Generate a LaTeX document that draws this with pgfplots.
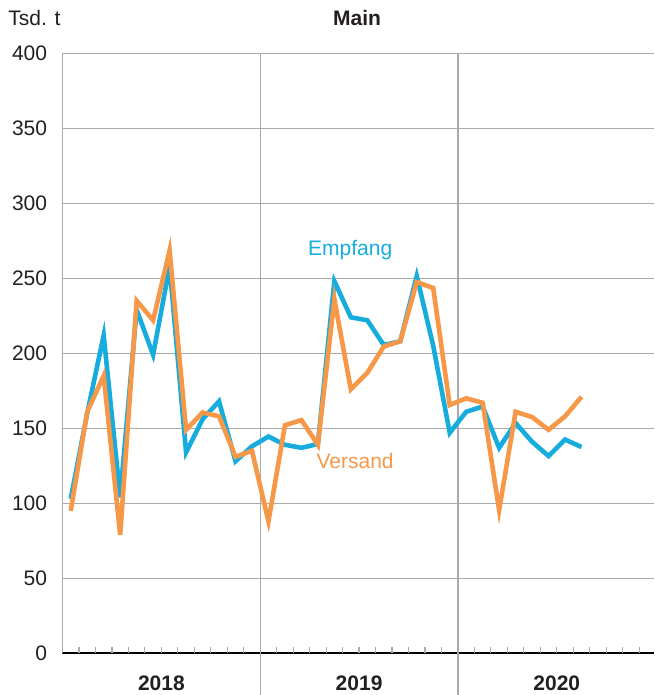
\documentclass[border=0pt]{standalone}
\usepackage{fontspec}
\setmainfont{Liberation Sans}
\usepackage{pgfplots}
\pgfplotsset{compat=1.18}
\definecolor{empfang}{RGB}{22,172,222}
\definecolor{versand}{RGB}{246,152,72}
\definecolor{gridgray}{RGB}{170,170,170}
\definecolor{txt}{RGB}{35,31,32}
\newcommand{\fs}{\fontsize{10.5}{12.6}\selectfont}

\begin{document}
\begin{tikzpicture}
\begin{axis}[
    scale only axis,
    width=295.75pt, height=300pt,
    xmin=0, xmax=35.9,
    ymin=0, ymax=400,
    clip=false,
    axis x line*=bottom,
    axis y line*=left,
    x axis line style={black, line width=1pt},
    y axis line style={gridgray, line width=0.6pt},
    ytick={0,50,...,400},
    ymajorgrids,
    grid style={gridgray, line width=0.6pt},
    major y tick style={draw=none},
    yticklabel style={anchor=east, inner sep=0pt, xshift=-7.5pt, font=\fs, text=txt},
    /pgf/number format/assume math mode=true,
    xtick={6,18,30},
    xticklabels={2018,2019,2020},
    major x tick style={draw=none},
    xticklabel style={anchor=center, inner sep=0pt, yshift=-15pt, font=\fs\bfseries, text=txt},
]
% year separators
\draw[gridgray, line width=0.6pt] (axis cs:12,400) -- (axis cs:12,0) -- ++(0,-20.85pt);
\draw[gridgray, line width=0.6pt] (axis cs:24,400) -- (axis cs:24,0) -- ++(0,-20.85pt);
% month ticks
\pgfplotsinvokeforeach{1,...,11,13,14,...,23,25,26,...,35}{
  \draw[gridgray, line width=0.6pt] (axis cs:#1,0) -- ++(0,3pt);
}

% Empfang
\addplot[empfang, line width=2.3pt, no markers] coordinates {
(0.5,103) (1.5,160) (2.5,212) (3.5,104) (4.5,229) (5.5,199) (6.5,258) (7.5,134)
(8.5,156) (9.5,168) (10.5,128) (11.5,138)
(12.5,144.5) (13.5,139) (14.5,137) (15.5,139.5) (16.5,248) (17.5,224) (18.5,222) (19.5,205.5)
(20.5,208) (21.5,251.5) (22.5,205) (23.5,147)
(24.5,161) (25.5,164.5) (26.5,137) (27.5,153.5) (28.5,141) (29.5,131.5) (30.5,142.5) (31.5,137.5)
};
% Versand
\addplot[versand, line width=2.3pt, no markers] coordinates {
(0.5,95) (1.5,161) (2.5,185) (3.5,79) (4.5,235) (5.5,222) (6.5,268.5) (7.5,149)
(8.5,160.5) (9.5,158) (10.5,131) (11.5,135)
(12.5,88) (13.5,152) (14.5,155.5) (15.5,139) (16.5,236) (17.5,176) (18.5,187) (19.5,204.5)
(20.5,208) (21.5,247.5) (22.5,243.5) (23.5,165.5)
(24.5,170) (25.5,167) (26.5,95.5) (27.5,161) (28.5,157.5) (29.5,149) (30.5,158) (31.5,171)
};

\node[font=\fs, text=empfang] at (axis cs:17.46,269) {Empfang};
\node[font=\fs, text=versand] at (axis cs:17.76,128) {Versand};
\end{axis}
\node[anchor=west, font=\fs, text=txt, inner sep=0pt] at (-27.25pt,317.6pt) {Tsd. t};
\node[font=\fs\bfseries, text=txt, inner sep=0pt] at (147.25pt,317.6pt) {Main};
\pgfresetboundingbox
\path (-31.25pt,-20.85pt) rectangle (295.75pt,326.65pt);
\end{tikzpicture}
\end{document}
